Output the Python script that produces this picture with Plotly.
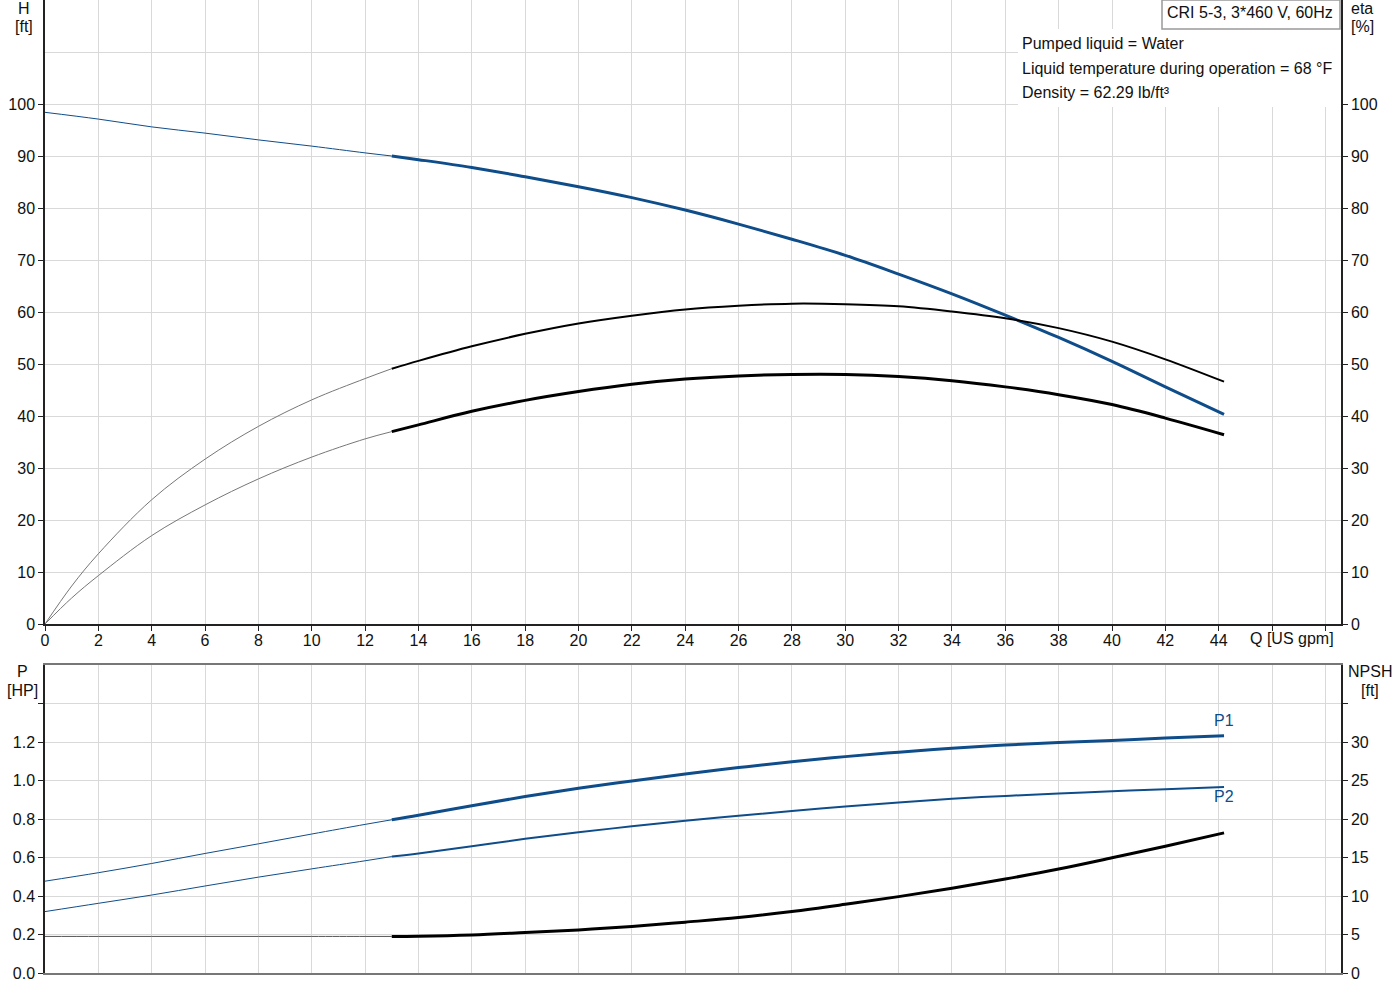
import plotly.graph_objects as go

# Flow rate [US gpm]: thin (outside operating range) and main sections
q_low = [0, 2, 4, 6, 8, 10, 12, 13]
q_eta_low = [0, 1, 2, 4, 6, 8, 10, 12, 13]
q_main = [13, 14, 16, 18, 20, 22, 24, 26, 28, 30, 32, 34, 36, 38, 40, 42, 44.2]

# Head H [ft]
head_low = [98.4, 97.1, 95.6, 94.4, 93.1, 91.9, 90.6, 90.0]
head_main = [90.0, 89.3, 87.8, 86.0, 84.1, 82.0, 79.6, 76.9, 74.0, 70.9,
             67.3, 63.5, 59.4, 55.1, 50.5, 45.6, 40.3]

# Efficiency eta [%] - pump and total
eta_pump_low = [0, 7.3, 13.5, 23.9, 31.7, 38.0, 43.1, 47.2, 49.1]
eta_pump_main = [49.1, 50.6, 53.4, 55.8, 57.8, 59.3, 60.5, 61.2, 61.6, 61.5,
                 61.1, 60.1, 58.8, 56.9, 54.3, 50.9, 46.6]
eta_total_low = [0, 5.0, 9.3, 17.0, 22.9, 27.9, 32.1, 35.6, 37.0]
eta_total_main = [37.0, 38.3, 40.9, 43.0, 44.7, 46.1, 47.1, 47.7, 48.0, 48.0,
                  47.6, 46.8, 45.6, 44.1, 42.2, 39.6, 36.4]

# Power P [HP]
p1_low = [0.477, 0.521, 0.569, 0.621, 0.671, 0.722, 0.772, 0.796]
p1_main = [0.796, 0.819, 0.869, 0.917, 0.960, 0.998, 1.034, 1.067, 1.098, 1.124,
           1.147, 1.167, 1.184, 1.197, 1.208, 1.221, 1.232]
p2_low = [0.319, 0.362, 0.405, 0.452, 0.498, 0.541, 0.583, 0.605]
p2_main = [0.605, 0.621, 0.658, 0.697, 0.731, 0.762, 0.791, 0.817, 0.841, 0.865,
           0.886, 0.905, 0.920, 0.932, 0.944, 0.955, 0.966]

# NPSH [ft]
npsh_low = [4.75, 4.75, 4.75, 4.75, 4.75, 4.75, 4.75, 4.75]
npsh_main = [4.75, 4.78, 4.95, 5.26, 5.6, 6.04, 6.6, 7.2, 7.98, 8.92,
             9.92, 11.0, 12.2, 13.5, 14.96, 16.46, 18.2]

# Tick labels
q_ticks = list(range(0, 49, 2))
q_labels = [str(v) if v <= 44 else "" for v in q_ticks]
h_ticks = list(range(0, 101, 10))
p_ticks = [0.0, 0.2, 0.4, 0.6, 0.8, 1.0, 1.2, 1.4]
p_labels = ["0.0", "0.2", "0.4", "0.6", "0.8", "1.0", "1.2", ""]
npsh_ticks = [0, 5, 10, 15, 20, 25, 30, 35]
npsh_labels = ["0", "5", "10", "15", "20", "25", "30", ""]

BLUE = "#0f4d8a"
FONT = "Liberation Sans, Arial, sans-serif"
FS = 16
W, H = 1400, 1000
ML, MR, MT, MB = 45, 59, 0, 27
PW, PH = W - ML - MR, H - MT - MB


def px(x):
    return (x - ML) / PW


def py(y):
    return (H - MB - y) / PH


fig = go.Figure()

# top plot: head and efficiency
fig.add_trace(go.Scatter(x=q_low, y=head_low, mode="lines", line=dict(color=BLUE, width=1),
                         line_shape="spline", xaxis="x", yaxis="y"))
fig.add_trace(go.Scatter(x=q_main, y=head_main, mode="lines", line=dict(color=BLUE, width=3),
                         line_shape="spline", xaxis="x", yaxis="y"))
fig.add_trace(go.Scatter(x=q_eta_low, y=eta_pump_low, mode="lines", line=dict(color="#777", width=1),
                         line_shape="spline", xaxis="x", yaxis="y2"))
fig.add_trace(go.Scatter(x=q_main, y=eta_pump_main, mode="lines", line=dict(color="black", width=2),
                         line_shape="spline", xaxis="x", yaxis="y2"))
fig.add_trace(go.Scatter(x=q_eta_low, y=eta_total_low, mode="lines", line=dict(color="#777", width=1),
                         line_shape="spline", xaxis="x", yaxis="y2"))
fig.add_trace(go.Scatter(x=q_main, y=eta_total_main, mode="lines", line=dict(color="black", width=3),
                         line_shape="spline", xaxis="x", yaxis="y2"))

# bottom plot: power and NPSH
fig.add_trace(go.Scatter(x=q_low, y=p1_low, mode="lines", line=dict(color=BLUE, width=1),
                         line_shape="spline", xaxis="x2", yaxis="y3"))
fig.add_trace(go.Scatter(x=q_main, y=p1_main, mode="lines", line=dict(color=BLUE, width=3),
                         line_shape="spline", xaxis="x2", yaxis="y3"))
fig.add_trace(go.Scatter(x=q_low, y=p2_low, mode="lines", line=dict(color=BLUE, width=1),
                         line_shape="spline", xaxis="x2", yaxis="y3"))
fig.add_trace(go.Scatter(x=q_main, y=p2_main, mode="lines", line=dict(color=BLUE, width=2),
                         line_shape="spline", xaxis="x2", yaxis="y3"))
fig.add_trace(go.Scatter(x=q_low, y=npsh_low, mode="lines", line=dict(color="#555", width=1),
                         line_shape="spline", xaxis="x2", yaxis="y4"))
fig.add_trace(go.Scatter(x=q_main, y=npsh_main, mode="lines", line=dict(color="black", width=3),
                         line_shape="spline", xaxis="x2", yaxis="y4"))

tickfont = dict(family=FONT, size=FS, color="#111")
grid = "#d9d9d9"
axis_common = dict(ticks="outside", ticklen=5, tickcolor="#222", tickwidth=1,
                   showline=True, linecolor="#222", linewidth=1.5,
                   zeroline=False, tickfont=tickfont, fixedrange=True)

top_dom = [py(624), 1]
bot_dom = [0, py(665)]
q_max = (1341 - ML) / ((1218.7 - ML) / 44)

fig.update_layout(
    width=W, height=H,
    margin=dict(l=ML, r=MR, t=MT, b=MB),
    paper_bgcolor="white", plot_bgcolor="white",
    showlegend=False,
    font=dict(family=FONT, size=FS, color="#111"),
    xaxis=dict(domain=[0, 1], anchor="y", range=[0, q_max], tickvals=q_ticks, ticktext=q_labels,
               showgrid=True, gridcolor=grid, ticklabelstandoff=-4, **axis_common),
    yaxis=dict(domain=top_dom, anchor="x", range=[0, 120], tickvals=h_ticks,
               showgrid=True, gridcolor=grid,
               minor=dict(dtick=10, tick0=0, showgrid=True, gridcolor=grid, ticks=""),
               **axis_common),
    yaxis2=dict(overlaying="y", side="right", anchor="x", range=[0, 120], tickvals=h_ticks,
                showgrid=False, **axis_common),
    xaxis2=dict(domain=[0, 1], anchor="y3", range=[0, q_max], dtick=2, tick0=0,
                showticklabels=False, ticks="", showgrid=True, gridcolor=grid,
                showline=True, mirror=True, linecolor="#777", linewidth=1.5,
                zeroline=False, fixedrange=True),
    yaxis3=dict(domain=bot_dom, anchor="x2", range=[0, 1.6], tickvals=p_ticks, ticktext=p_labels,
                showgrid=True, gridcolor=grid, **axis_common),
    yaxis4=dict(overlaying="y3", side="right", anchor="x2", range=[0, 40], tickvals=npsh_ticks,
                ticktext=npsh_labels, showgrid=False, **axis_common),
)

# white panels for the info box
fig.add_shape(type="rect", xref="paper", yref="paper", x0=px(1018), x1=px(1341), y0=py(107), y1=py(29),
              fillcolor="white", line=dict(width=0), layer="above")
fig.add_shape(type="rect", xref="paper", yref="paper", x0=px(1162), x1=px(1340), y0=py(29), y1=py(0),
              fillcolor="white", line=dict(color="#999", width=1.5), layer="above")


def label(text, x, y, anchor="center", color="#111"):
    fig.add_annotation(text=text, xref="paper", yref="paper", x=px(x), y=py(y),
                       xanchor=anchor, yanchor="middle", showarrow=False,
                       font=dict(family=FONT, size=FS, color=color))


label("H", 24, 9)
label("[ft]", 24, 26)
label("eta", 1362, 9)
label("[%]", 1362, 26)
label("P", 22, 672)
label("[HP]", 22, 690)
label("NPSH", 1370, 672)
label("[ft]", 1370, 690)
label("Q [US gpm]", 1292, 638)
label("CRI 5-3, 3*460 V, 60Hz", 1250, 12)
label("Pumped liquid = Water", 1020, 44, anchor="left")
label("Liquid temperature during operation = 68 °F", 1020, 68, anchor="left")
label("Density = 62.29 lb/ft³", 1020, 92, anchor="left")

# curve labels at the end of the power curves
fig.add_annotation(text="P1", x=q_main[-1], y=p1_main[-1], xref="x2", yref="y3", yshift=15,
                   showarrow=False, font=dict(family=FONT, size=FS, color=BLUE))
fig.add_annotation(text="P2", x=q_main[-1], y=p2_main[-1], xref="x2", yref="y3", yshift=-9,
                   showarrow=False, font=dict(family=FONT, size=FS, color=BLUE))

fig.write_html("out.html", config={"displayModeBar": False},
               post_script="document.body.style.margin='0';")
